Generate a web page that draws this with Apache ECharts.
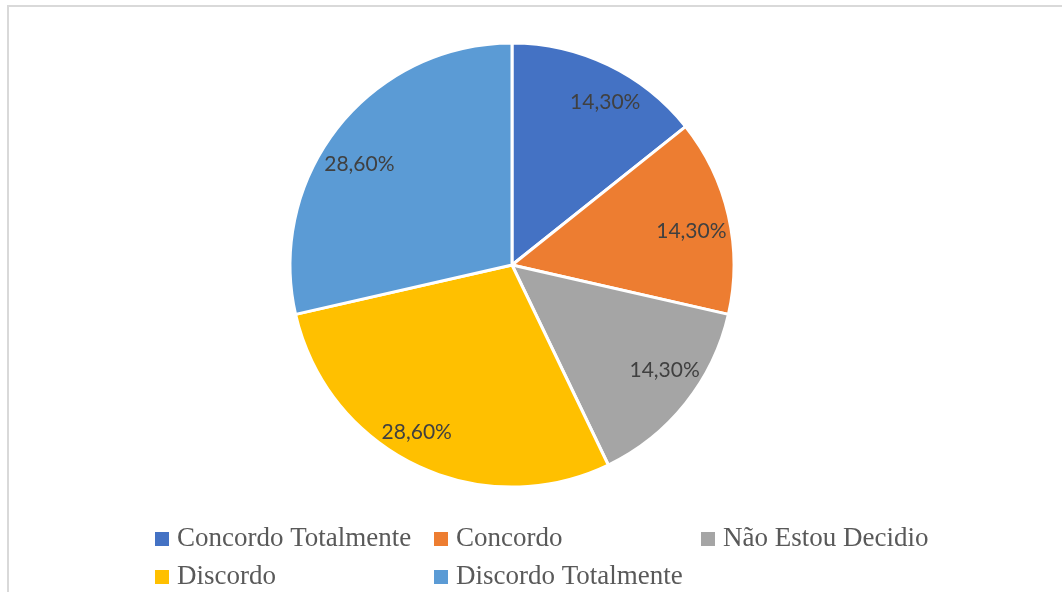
<!DOCTYPE html>
<html>
<head>
<meta charset="utf-8">
<script src="https://cdn.jsdelivr.net/npm/echarts@6/dist/echarts.min.js"></script>
<style>
  html, body { margin: 0; padding: 0; background: #ffffff; }
  #chart { width: 1062px; height: 592px; }
</style>
</head>
<body>
<div id="chart"></div>
<script>
// Survey answers and their shares (percent)
const categories = ['Concordo Totalmente', 'Concordo', 'Não Estou Decidio', 'Discordo', 'Discordo Totalmente'];
const shares = [14.3, 14.3, 14.3, 28.6, 28.6];
const colors = ['#4472C4', '#ED7D31', '#A5A5A5', '#FFC000', '#5B9BD5'];

const fmt = v => v.toFixed(2).replace('.', ',') + '%';

// small nudges of each percentage label away from its slice's mid-angle
const labelNudge = [[13, 4], [-1, 7], [8, -10], [-15, 1], [-8, 15]];

const pieData = categories.map((name, i) => ({ name: name, value: shares[i] }));
const labelData = categories.map((name, i) => ({
  name: name,
  value: shares[i],
  label: { offset: labelNudge[i] }
}));

// Legend laid out as a grid: [left, top] per entry
const legendSlots = [[155, 525], [434, 525], [701, 525], [155, 563], [434, 563]];
const legends = categories.map((name, i) => ({
  data: [name],
  left: legendSlots[i][0],
  top: legendSlots[i][1],
  orient: 'horizontal',
  padding: 0,
  itemWidth: 14,
  itemHeight: 14,
  icon: 'rect',
  itemStyle: { borderWidth: 0 },
  selectedMode: false,
  textStyle: {
    fontFamily: 'Liberation Serif',
    fontSize: 27,
    color: '#595959',
    lineHeight: 28,
    padding: [0, 0, 0, 3]
  }
}));

const chart = echarts.init(document.getElementById('chart'), null, { renderer: 'canvas' });
chart.setOption({
  animation: false,
  backgroundColor: '#ffffff',
  color: colors,
  graphic: [{
    type: 'rect',
    shape: { x: 8, y: 6, width: 1080, height: 620 },
    style: { fill: 'none', stroke: '#d9d9d9', lineWidth: 2 },
    silent: true
  }],
  legend: legends,
  series: [
    {
      type: 'pie',
      center: [512, 265],
      radius: [0, 222],
      startAngle: 90,
      clockwise: true,
      data: pieData,
      itemStyle: { borderColor: '#ffffff', borderWidth: 3 },
      label: { show: false },
      labelLine: { show: false },
      emphasis: { disabled: true }
    },
    {
      // transparent ring carrying the percentage labels at ~0.82 radius
      type: 'pie',
      center: [512, 265],
      radius: [142, 222],
      startAngle: 90,
      clockwise: true,
      silent: true,
      data: labelData,
      itemStyle: { color: 'rgba(0,0,0,0)', borderWidth: 0 },
      label: {
        show: true,
        position: 'inside',
        formatter: p => fmt(p.value),
        fontFamily: 'Lato',
        fontSize: 21,
        color: '#404040'
      },
      labelLine: { show: false },
      emphasis: { disabled: true }
    }
  ]
});
</script>
</body>
</html>
